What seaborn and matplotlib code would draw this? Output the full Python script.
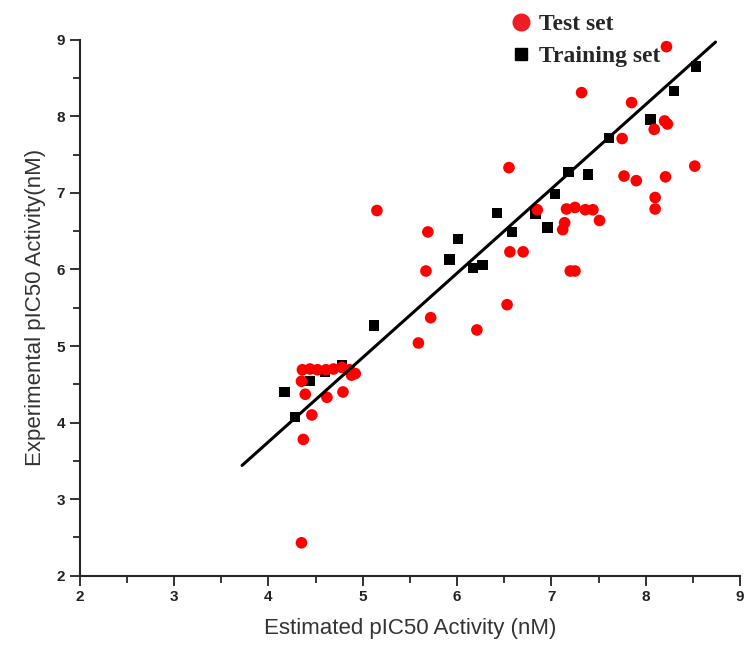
import matplotlib
matplotlib.use("Agg")
import matplotlib.pyplot as plt
from matplotlib.lines import Line2D
from matplotlib.ticker import MultipleLocator
import seaborn as sns

# Test set (red circles)
test_x = [8.22, 7.32, 7.85, 8.20, 8.23, 8.09, 7.75, 6.55, 7.77, 7.90, 8.21, 8.52,
          8.10, 8.10, 6.85, 7.16, 7.25, 7.36, 7.44, 7.51, 7.14, 7.12, 7.20, 7.25,
          6.56, 6.70, 6.53, 5.15, 5.69, 5.67, 5.72, 5.59, 6.21,
          4.36, 4.44, 4.52, 4.61, 4.69, 4.78, 4.86, 4.92, 4.88, 4.35, 4.39, 4.62,
          4.79, 4.46, 4.37, 4.35]
test_y = [8.91, 8.31, 8.18, 7.94, 7.90, 7.83, 7.71, 7.33, 7.22, 7.16, 7.21, 7.35,
          6.94, 6.79, 6.78, 6.79, 6.81, 6.78, 6.78, 6.64, 6.61, 6.52, 5.98, 5.98,
          6.23, 6.23, 5.54, 6.77, 6.49, 5.98, 5.37, 5.04, 5.21,
          4.69, 4.70, 4.69, 4.69, 4.70, 4.72, 4.69, 4.64, 4.62, 4.54, 4.37, 4.33,
          4.40, 4.10, 3.78, 2.43]

# Training set (black squares)
train_x = [8.53, 8.30, 8.05, 7.61, 7.18, 7.39, 7.04, 6.96, 6.83, 6.42, 6.58,
           6.01, 5.92, 6.17, 6.27, 5.12, 4.78, 4.60, 4.44, 4.17, 4.28]
train_y = [8.65, 8.33, 7.96, 7.72, 7.27, 7.24, 6.99, 6.55, 6.73, 6.74, 6.49,
           6.40, 6.13, 6.02, 6.06, 5.27, 4.75, 4.66, 4.54, 4.40, 4.07]

# fitted line end points
fit_x = [3.72, 8.74]
fit_y = [3.44, 8.97]

sns.set_style("ticks")
plt.rcParams["font.family"] = ["Liberation Sans", "DejaVu Sans"]

fig = plt.figure(figsize=(7.46, 6.52), dpi=100)
ax = fig.add_axes([0.107, 0.117, 0.885, 0.822])

sns.scatterplot(x=train_x, y=train_y, marker="s", s=55, color="black",
                edgecolor="none", ax=ax, zorder=2)
sns.scatterplot(x=test_x, y=test_y, marker="o", s=70, color="#ff0000",
                edgecolor="none", ax=ax, zorder=3)
sns.lineplot(x=fit_x, y=fit_y, color="black", linewidth=2.2, ax=ax, zorder=4)

ax.set_xlim(2, 9)
ax.set_ylim(2, 9)
ax.xaxis.set_major_locator(MultipleLocator(1))
ax.yaxis.set_major_locator(MultipleLocator(1))
ax.xaxis.set_minor_locator(MultipleLocator(0.5))
ax.yaxis.set_minor_locator(MultipleLocator(0.5))
ax.tick_params(which="major", length=7, width=1.3, labelsize=11, colors="#222222")
ax.tick_params(which="minor", length=5, width=1.3)
for lab in ax.get_xticklabels() + ax.get_yticklabels():
    lab.set_fontweight("bold")
for side in ["top", "right"]:
    ax.spines[side].set_visible(False)
for side in ["left", "bottom"]:
    ax.spines[side].set_linewidth(1.5)

ax.set_xlabel("Estimated pIC50 Activity (nM)", fontsize=16, color="#333333", labelpad=10)
ax.set_ylabel("Experimental pIC50 Activity(nM)", fontsize=16, color="#333333", labelpad=8)

handles = [
    Line2D([], [], marker="o", linestyle="none", color="#ee1c25", markersize=12),
    Line2D([], [], marker="s", linestyle="none", color="black", markersize=9),
]
fig.legend(handles, ["Test set", "Training set"], loc="upper left",
           bbox_to_anchor=(0.664, 0.997), frameon=False, borderpad=0,
           prop={"family": "Liberation Serif", "weight": "bold", "size": 17},
           handletextpad=0.15, labelspacing=0.45, handlelength=1.2)

fig.savefig("out.png", dpi=100)
